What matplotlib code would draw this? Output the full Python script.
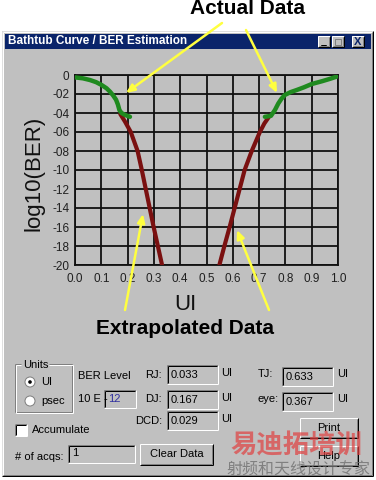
import matplotlib
matplotlib.use("Agg")
import matplotlib.pyplot as plt
from matplotlib.patches import Rectangle, Circle

plt.rcParams['font.family'] = ['Liberation Sans', 'DejaVu Sans']

# ---- chart data ----
ui_ticks = [0.0, 0.1, 0.2, 0.3, 0.4, 0.5, 0.6, 0.7, 0.8, 0.9, 1.0]
ber_ticks = [0, -2, -4, -6, -8, -10, -12, -14, -16, -18, -20]
ber_labels = ['0', '-02', '-04', '-06', '-08', '-10', '-12', '-14', '-16', '-18', '-20']

# measured part (green)
left_actual_ui = [0.0, 0.03, 0.057, 0.08, 0.101, 0.12, 0.133, 0.145, 0.156, 0.163, 0.169, 0.177, 0.19, 0.209]
left_actual_ber = [-0.25, -0.35, -0.53, -0.75, -1.05, -1.4, -1.75, -2.15, -2.6, -3.1, -3.7, -4.0, -4.2, -4.4]
right_actual_ui = [0.722, 0.745, 0.76, 0.773, 0.785, 0.798, 0.82, 0.843, 0.87, 0.9, 0.94, 0.97, 0.995]
right_actual_ber = [-4.4, -4.3, -3.7, -3.0, -2.5, -2.1, -1.8, -1.58, -1.3, -0.95, -0.65, -0.4, -0.17]

# extrapolated part (dark red)
left_extrap_ui = [0.172, 0.19, 0.212, 0.238, 0.254, 0.269, 0.284, 0.299, 0.315, 0.331]
left_extrap_ber = [-4.1, -4.9, -6.0, -8.0, -10.0, -12.0, -14.0, -16.0, -18.0, -20.0]
right_extrap_ui = [0.74, 0.72, 0.703, 0.672, 0.645, 0.626, 0.607, 0.588, 0.568, 0.549]
right_extrap_ber = [-4.3, -5.1, -6.0, -8.0, -10.0, -12.0, -14.0, -16.0, -18.0, -20.0]

# result fields
rj, dj, dcd = '0.033', '0.167', '0.029'
tj, eye = '0.633', '0.367'
ber_exp = '12'
n_acqs = '1'

GRAY = '#c0c0c0'
DARK = '#808080'
W, H = 376, 480
PX = 0.72  # one pixel in points

fig = plt.figure(figsize=(3.76, 4.80), dpi=100)
fig.patch.set_facecolor('white')

bg = fig.add_axes([0, 0, 1, 1], zorder=0)
bg.set_xlim(0, W)
bg.set_ylim(H, 0)
bg.axis('off')


def hline(x0, x1, y, c, ax=bg):
    ax.plot([x0, x1], [y, y], color=c, lw=PX, solid_capstyle='butt')


def vline(x, y0, y1, c, ax=bg):
    ax.plot([x, x], [y0, y1], color=c, lw=PX, solid_capstyle='butt')


def raised(x0, y0, x1, y1, fill=GRAY):
    bg.add_patch(Rectangle((x0, y0), x1 - x0, y1 - y0, fc=fill, ec='none'))
    hline(x0, x1, y0, 'white'); vline(x0, y0, y1, 'white')
    hline(x0, x1, y1, 'black'); vline(x1, y0, y1, 'black')
    hline(x0 + 1, x1 - 1, y1 - 1, DARK); vline(x1 - 1, y0 + 1, y1 - 1, DARK)


def sunken(x0, y0, x1, y1, fill=GRAY):
    bg.add_patch(Rectangle((x0, y0), x1 - x0, y1 - y0, fc=fill, ec='none'))
    hline(x0, x1, y0, DARK); vline(x0, y0, y1, DARK)
    hline(x0 + 1, x1 - 1, y0 + 1, 'black'); vline(x0 + 1, y0 + 1, y1 - 1, 'black')
    hline(x0, x1, y1, 'white'); vline(x1, y0, y1, 'white')


# window frame
bg.add_patch(Rectangle((2, 31), 371, 445, fc=GRAY, ec='none'))
hline(2, 373, 31, '#dfdfdf'); vline(2, 31, 476, '#dfdfdf')
hline(3, 372, 32, 'white'); vline(3, 32, 475, 'white')
hline(2, 373, 476, 'black'); vline(373, 31, 476, 'black')
hline(3, 372, 475, DARK); vline(372, 32, 475, DARK)

# title bar
bg.add_patch(Rectangle((5, 34), 366, 15, fc='#0a246a', ec='none'))
bg.text(8, 41.5, 'Bathtub Curve / BER Estimation', color='white', fontsize=8.5,
        fontweight='bold', ha='left', va='center')
for bx in (318, 332, 352):
    raised(bx, 36, bx + 12, 47)
hline(321, 326, 44.5, 'black'); hline(321, 326, 45.3, 'black')
bg.add_patch(Rectangle((335, 38.5), 6, 6, fc='none', ec=DARK, lw=PX))
bg.text(358, 41.8, 'X', color='#0a246a', fontsize=8, fontweight='bold', ha='center', va='center')

# ---- chart ----
ax = fig.add_axes([75 / W, 1 - 265 / H, 263 / W, 190 / H], zorder=1)
ax.set_facecolor('none')
ax.plot(left_extrap_ui, left_extrap_ber, color='#7a1010', lw=3.0, solid_capstyle='round', zorder=3)
ax.plot(right_extrap_ui, right_extrap_ber, color='#7a1010', lw=3.0, solid_capstyle='round', zorder=3)
ax.plot(left_actual_ui, left_actual_ber, color='#1f8a1f', lw=3.2, solid_capstyle='round', zorder=4)
ax.plot(right_actual_ui, right_actual_ber, color='#1f8a1f', lw=3.2, solid_capstyle='round', zorder=4)
ax.set_xlim(0, 1)
ax.set_ylim(-20, 0)
ax.set_xticks(ui_ticks)
ax.set_xticklabels(['%.1f' % v for v in ui_ticks])
ax.set_yticks(ber_ticks)
ax.set_yticklabels(ber_labels)
ax.grid(True, color='#101010', lw=1.3)
ax.set_axisbelow(True)
for s in ax.spines.values():
    s.set_color('#101010')
    s.set_linewidth(1.3)
ax.tick_params(length=0, labelsize=8.5, colors='#202020', pad=4)
ax.tick_params(axis='x', pad=6)

# ---- overlay: axis titles, annotations ----
ov = fig.add_axes([0, 0, 1, 1], zorder=2)
ov.set_xlim(0, W)
ov.set_ylim(H, 0)
ov.axis('off')
ov.patch.set_alpha(0)

ov.text(34, 173, 'log10(BER)', rotation=90, fontsize=16, ha='center', va='center', color='#111111')
ov.text(185, 305, 'UI', fontsize=16, ha='center', va='center', color='#111111')
ov.text(248, 9, 'Actual Data', fontsize=15, fontweight='bold', ha='center', va='center')
ov.text(185, 328, 'Extrapolated Data', fontsize=15, fontweight='bold', ha='center', va='center')

arrow = dict(arrowstyle='-|>,head_length=0.5,head_width=0.22', color='#ffff40', lw=1.8,
             shrinkA=0, shrinkB=0)
for tail, tip in [((222, 23), (126, 93)), ((246, 30), (277, 93)),
                  ((125, 310), (143, 214)), ((269, 310), (237, 230))]:
    ov.annotate('', xy=tip, xytext=tail, arrowprops=arrow)

# ---- controls ----
fs = 8
# Units group box
gx0, gy0, gx1, gy1 = 15, 364, 72, 412
for dx, c in ((0, DARK), (1, 'white')):
    hline(gx0 + dx, 21, gy0 + dx, c); hline(49, gx1 + dx, gy0 + dx, c)
    vline(gx0 + dx, gy0 + dx, gy1 + dx, c); vline(gx1 + dx, gy0 + dx, gy1 + dx, c)
    hline(gx0 + dx, gx1 + dx, gy1 + dx, c)
bg.text(23, 365, 'Units', fontsize=fs, ha='left', va='center')
for cy, lab, on in ((382, 'UI', True), (401, 'psec', False)):
    bg.add_patch(Circle((30, cy), 5, fc='white', ec=DARK, lw=PX))
    if on:
        bg.add_patch(Circle((30, cy), 1.8, fc='black', ec='none'))
    bg.text(41, cy, lab, fontsize=fs, ha='left', va='center')

bg.text(78, 376, 'BER Level', fontsize=fs, ha='left', va='center')
bg.text(78, 399, '10 E -', fontsize=fs, ha='left', va='center')
sunken(104, 390, 136, 408)
bg.text(108, 399, ber_exp, fontsize=fs, ha='left', va='center', color='#3030a0')

for lab, val, y0 in (('RJ:', rj, 365), ('DJ:', dj, 390), ('DCD:', dcd, 411)):
    bg.text(162, y0 + 9.5, lab, fontsize=fs, ha='right', va='center')
    sunken(167, y0, 218, y0 + 19)
    bg.text(171, y0 + 10, val, fontsize=fs, ha='left', va='center')
    bg.text(221, y0 + 8, 'UI', fontsize=fs, ha='left', va='center')

for lab, val, y0 in (('TJ:', tj, 367), ('eye:', eye, 392)):
    bg.text(258, y0 + 7, lab, fontsize=fs, ha='left', va='center')
    sunken(282, y0, 333, y0 + 19)
    bg.text(286, y0 + 10, val, fontsize=fs, ha='left', va='center')
    bg.text(337, y0 + 7, 'UI', fontsize=fs, ha='left', va='center')

sunken(15, 424, 27, 436, fill='white')
bg.text(32, 430, 'Accumulate', fontsize=fs, ha='left', va='center')

bg.text(15, 457, '# of acqs:', fontsize=fs, ha='left', va='center')
sunken(68, 445, 135, 463)
bg.text(72, 453, n_acqs, fontsize=fs, ha='left', va='center')

raised(140, 444, 213, 465)
bg.text(177, 454, 'Clear Data', fontsize=fs, ha='center', va='center')
raised(300, 418, 358, 438)
bg.text(329, 428, 'Print', fontsize=fs, ha='center', va='center')
raised(300, 446, 358, 466)
bg.text(329, 456, 'Help', fontsize=fs, ha='center', va='center')

# watermark
cjk = ['Noto Sans CJK SC', 'DejaVu Sans']
ov.text(296, 446, '易迪拓培训', family=cjk, fontsize=19, fontweight='bold',
        color='#e04040', alpha=0.7, ha='center', va='center')
ov.text(298, 470, '射频和天线设计专家', family=cjk, fontsize=11.5,
        color='#707070', alpha=0.8, ha='center', va='center')

fig.savefig('out.png', dpi=100, facecolor='white')
